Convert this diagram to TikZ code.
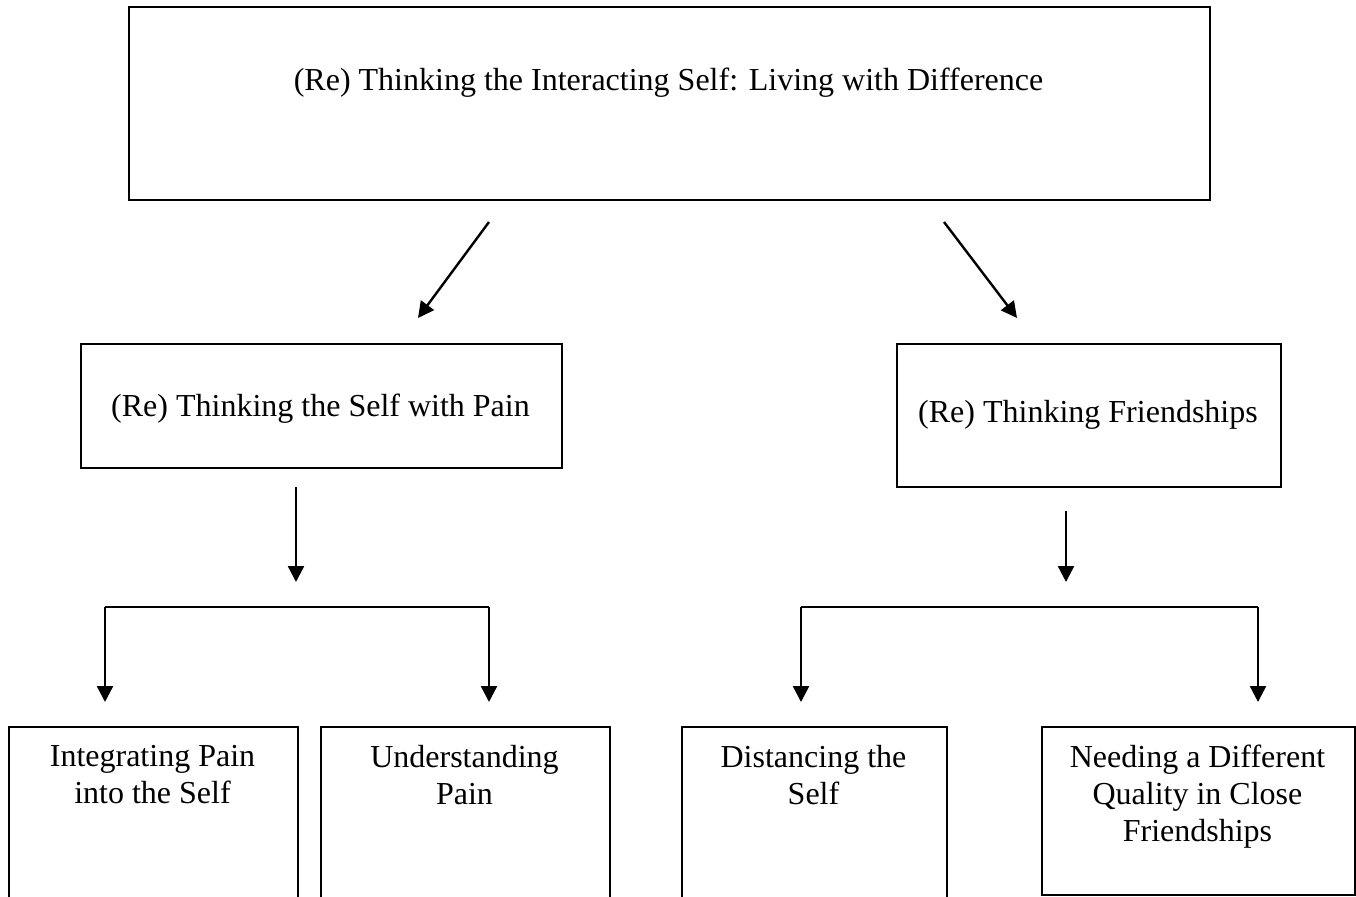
\documentclass[tikz,border=0pt]{standalone}
\usepackage{fontspec}
\setmainfont{Liberation Serif}
\usetikzlibrary{arrows.meta}
\begin{document}
\begin{tikzpicture}[x=1pt,y=-1pt,
  box/.style={draw, line width=2pt, anchor=north west, inner sep=0pt, minimum width=#1},
  lbl/.style={align=center, font=\fontsize{32}{36.8}\selectfont, inner sep=0pt, anchor=base},
  conn/.style={line width=2.4pt, -{Triangle[width=16pt,length=16pt]}},
  plain/.style={line width=2.4pt}]
\useasboundingbox (0,0) rectangle (1356,896);
\fill[white] (0,0) rectangle (1356,896);
% boxes
\node[box=1081pt, minimum height=193pt] (top) at (128,6) {};
\node[box=481pt, minimum height=124pt] (midL) at (80,343) {};
\node[box=384pt, minimum height=143pt] (midR) at (896,343) {};
\node[box=289pt, minimum height=200pt] (b1) at (8,726) {};
\node[box=289pt, minimum height=200pt] (b2) at (320,726) {};
\node[box=265pt, minimum height=200pt] (b3) at (681,726) {};
\node[box=313pt, minimum height=168pt] (b4) at (1041,726) {};
% labels
\node[lbl] (ttop) at (668.5,91) {(Re) Thinking the Interacting Self: Living with Difference};
\node[lbl] (tmidL) at (320.5,416) {(Re) Thinking the Self with Pain};
\node[lbl] (tmidR) at (1088,422) {(Re) Thinking Friendships};
\node[lbl, anchor=north] (tb1) at (152.5,745) {Integrating Pain\\into the Self};
\node[lbl, anchor=north] (tb2) at (464.5,745) {Understanding\\Pain};
\node[lbl, anchor=north] (tb3) at (813.5,745) {Distancing the\\Self};
\node[lbl, anchor=north] (tb4) at (1197.5,745) {Needing a Different\\Quality in Close\\Friendships};
% connector coordinates
\coordinate (d1s) at (489,222);
\coordinate (d1e) at (418,318);
\coordinate (d2s) at (944,222);
\coordinate (d2e) at (1017,318);
\coordinate (vLs) at (296,487);
\coordinate (vLe) at (296,582);
\coordinate (hL1) at (105,607);
\coordinate (hL2) at (489,607);
\coordinate (aL1) at (105,702);
\coordinate (aL2) at (489,702);
\coordinate (vRs) at (1066,511);
\coordinate (vRe) at (1066,582);
\coordinate (hR1) at (801,607);
\coordinate (hR2) at (1258,607);
\coordinate (aR1) at (801,702);
\coordinate (aR2) at (1258,702);
% connectors
\draw[conn] (d1s) -- (d1e);
\draw[conn] (d2s) -- (d2e);
\draw[conn] (vLs) -- (vLe);
\draw[conn] (vRs) -- (vRe);
\draw[plain] (hL1) -- (hL2);
\draw[plain] (hR1) -- (hR2);
\draw[conn] (hL1) -- (aL1);
\draw[conn] (hL2) -- (aL2);
\draw[conn] (hR1) -- (aR1);
\draw[conn] (hR2) -- (aR2);
\end{tikzpicture}
\end{document}
